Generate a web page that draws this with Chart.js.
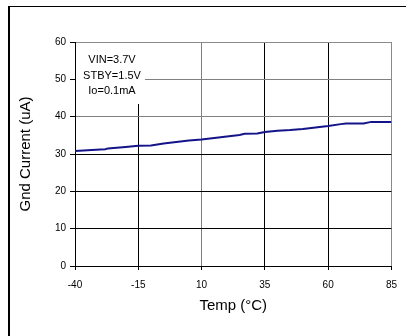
<!DOCTYPE html>
<html>
<head>
<meta charset="utf-8">
<script src="https://cdn.jsdelivr.net/npm/chart.js@4"></script>
<style>
  html, body { margin: 0; padding: 0; background: #fff; }
  #wrap { position: relative; width: 406px; height: 336px; overflow: hidden; }
  #frame { position: absolute; left: 8px; top: 6px; width: 420px; height: 360px;
           border-left: 2px solid #000; border-top: 1px solid #000; pointer-events: none; }
  canvas { position: absolute; left: 0; top: 0; }
</style>
</head>
<body>
<div id="wrap">
  <canvas id="chart" width="406" height="336"></canvas>
  <div id="frame"></div>
</div>
<script>
// ------------------------------------------------------------
// data
// ------------------------------------------------------------
const temps = [-40, -35, -30, -28, -27, -20, -15, -10, -5, 0, 5, 10, 15, 20, 25, 27, 32, 35, 40, 45, 50, 55, 60, 65, 67, 74, 77, 85];
const gndCurrent = [30.8, 31.0, 31.2, 31.3, 31.5, 31.9, 32.2, 32.3, 32.8, 33.2, 33.6, 33.9, 34.3, 34.7, 35.1, 35.4, 35.5, 35.9, 36.2, 36.4, 36.7, 37.1, 37.5, 38.0, 38.2, 38.2, 38.6, 38.6];
const xTicks = [-40, -15, 10, 35, 60, 85];
const yTicks = [0, 10, 20, 30, 40, 50, 60];
const noteLines = ['VIN=3.7V', 'STBY=1.5V', 'Io=0.1mA'];

// grid colours per tick (some grid lines look grey in the original)
const xGridCols = ['#000', '#000', '#808080', '#000', '#000', '#8a8a8a'];
const yGridCols = ['#000', '#000', '#000', '#000', '#808080', '#808080', '#8a8a8a'];

// note box in upper-left corner of plot area
const notePlugin = {
  id: 'note',
  beforeDatasetsDraw(chart) {
    const { ctx, chartArea } = chart;
    const x0 = chartArea.left + 1, y0 = chartArea.top + 1;
    ctx.save();
    ctx.fillStyle = '#fff';
    ctx.fillRect(x0, y0, 69, 61);
    ctx.fillStyle = '#000';
    ctx.font = '11px "Liberation Sans", Arial, sans-serif';
    ctx.textAlign = 'center';
    ctx.textBaseline = 'middle';
    noteLines.forEach((t, i) => ctx.fillText(t, x0 + 36, y0 + 17 + i * 15.5));
    ctx.restore();
  }
};

const font = { family: '"Liberation Sans", Arial, sans-serif' };

new Chart(document.getElementById('chart'), {
  type: 'line',
  data: {
    datasets: [{
      data: temps.map((t, i) => ({ x: t, y: gndCurrent[i] })),
      borderColor: '#14148a',
      borderWidth: 2,
      pointRadius: 0,
      tension: 0,
      fill: false,
    }],
  },
  options: {
    responsive: false,
    animation: false,
    events: [],
    layout: { padding: { left: 0, top: 42, right: 14, bottom: 0 } },
    plugins: { legend: { display: false }, tooltip: { enabled: false } },
    scales: {
      x: {
        type: 'linear',
        min: -40, max: 85,
        afterBuildTicks: (s) => { s.ticks = xTicks.map(v => ({ value: v })); },
        afterFit: (s) => { s.height = 70; },
        grid: {
          color: (c) => xGridCols[c.index] || '#000',
          tickColor: '#000',
          tickLength: 4,
          lineWidth: 1,
        },
        border: { color: '#000', width: 1 },
        ticks: { color: '#000', padding: 9, maxRotation: 0, font: { ...font, size: 10 } },
        title: {
          display: true, text: 'Temp (°C)', color: '#000',
          padding: { top: 0, bottom: 21 },
          font: { ...font, size: 15 },
        },
      },
      y: {
        min: 0, max: 60,
        afterBuildTicks: (s) => { s.ticks = yTicks.map(v => ({ value: v })); },
        afterFit: (s) => { s.width = 75; },
        grid: {
          color: (c) => yGridCols[c.index] || '#000',
          tickColor: '#000',
          tickLength: 5,
          lineWidth: 1,
        },
        border: { color: '#000', width: 1 },
        ticks: { color: '#000', padding: 4, font: { ...font, size: 10 } },
        title: {
          display: true, text: 'Gnd Current (uA)', color: '#000',
          padding: { top: 17, bottom: 0 },
          font: { ...font, size: 15 },
        },
      },
    },
  },
  plugins: [notePlugin],
});
</script>
</body>
</html>
